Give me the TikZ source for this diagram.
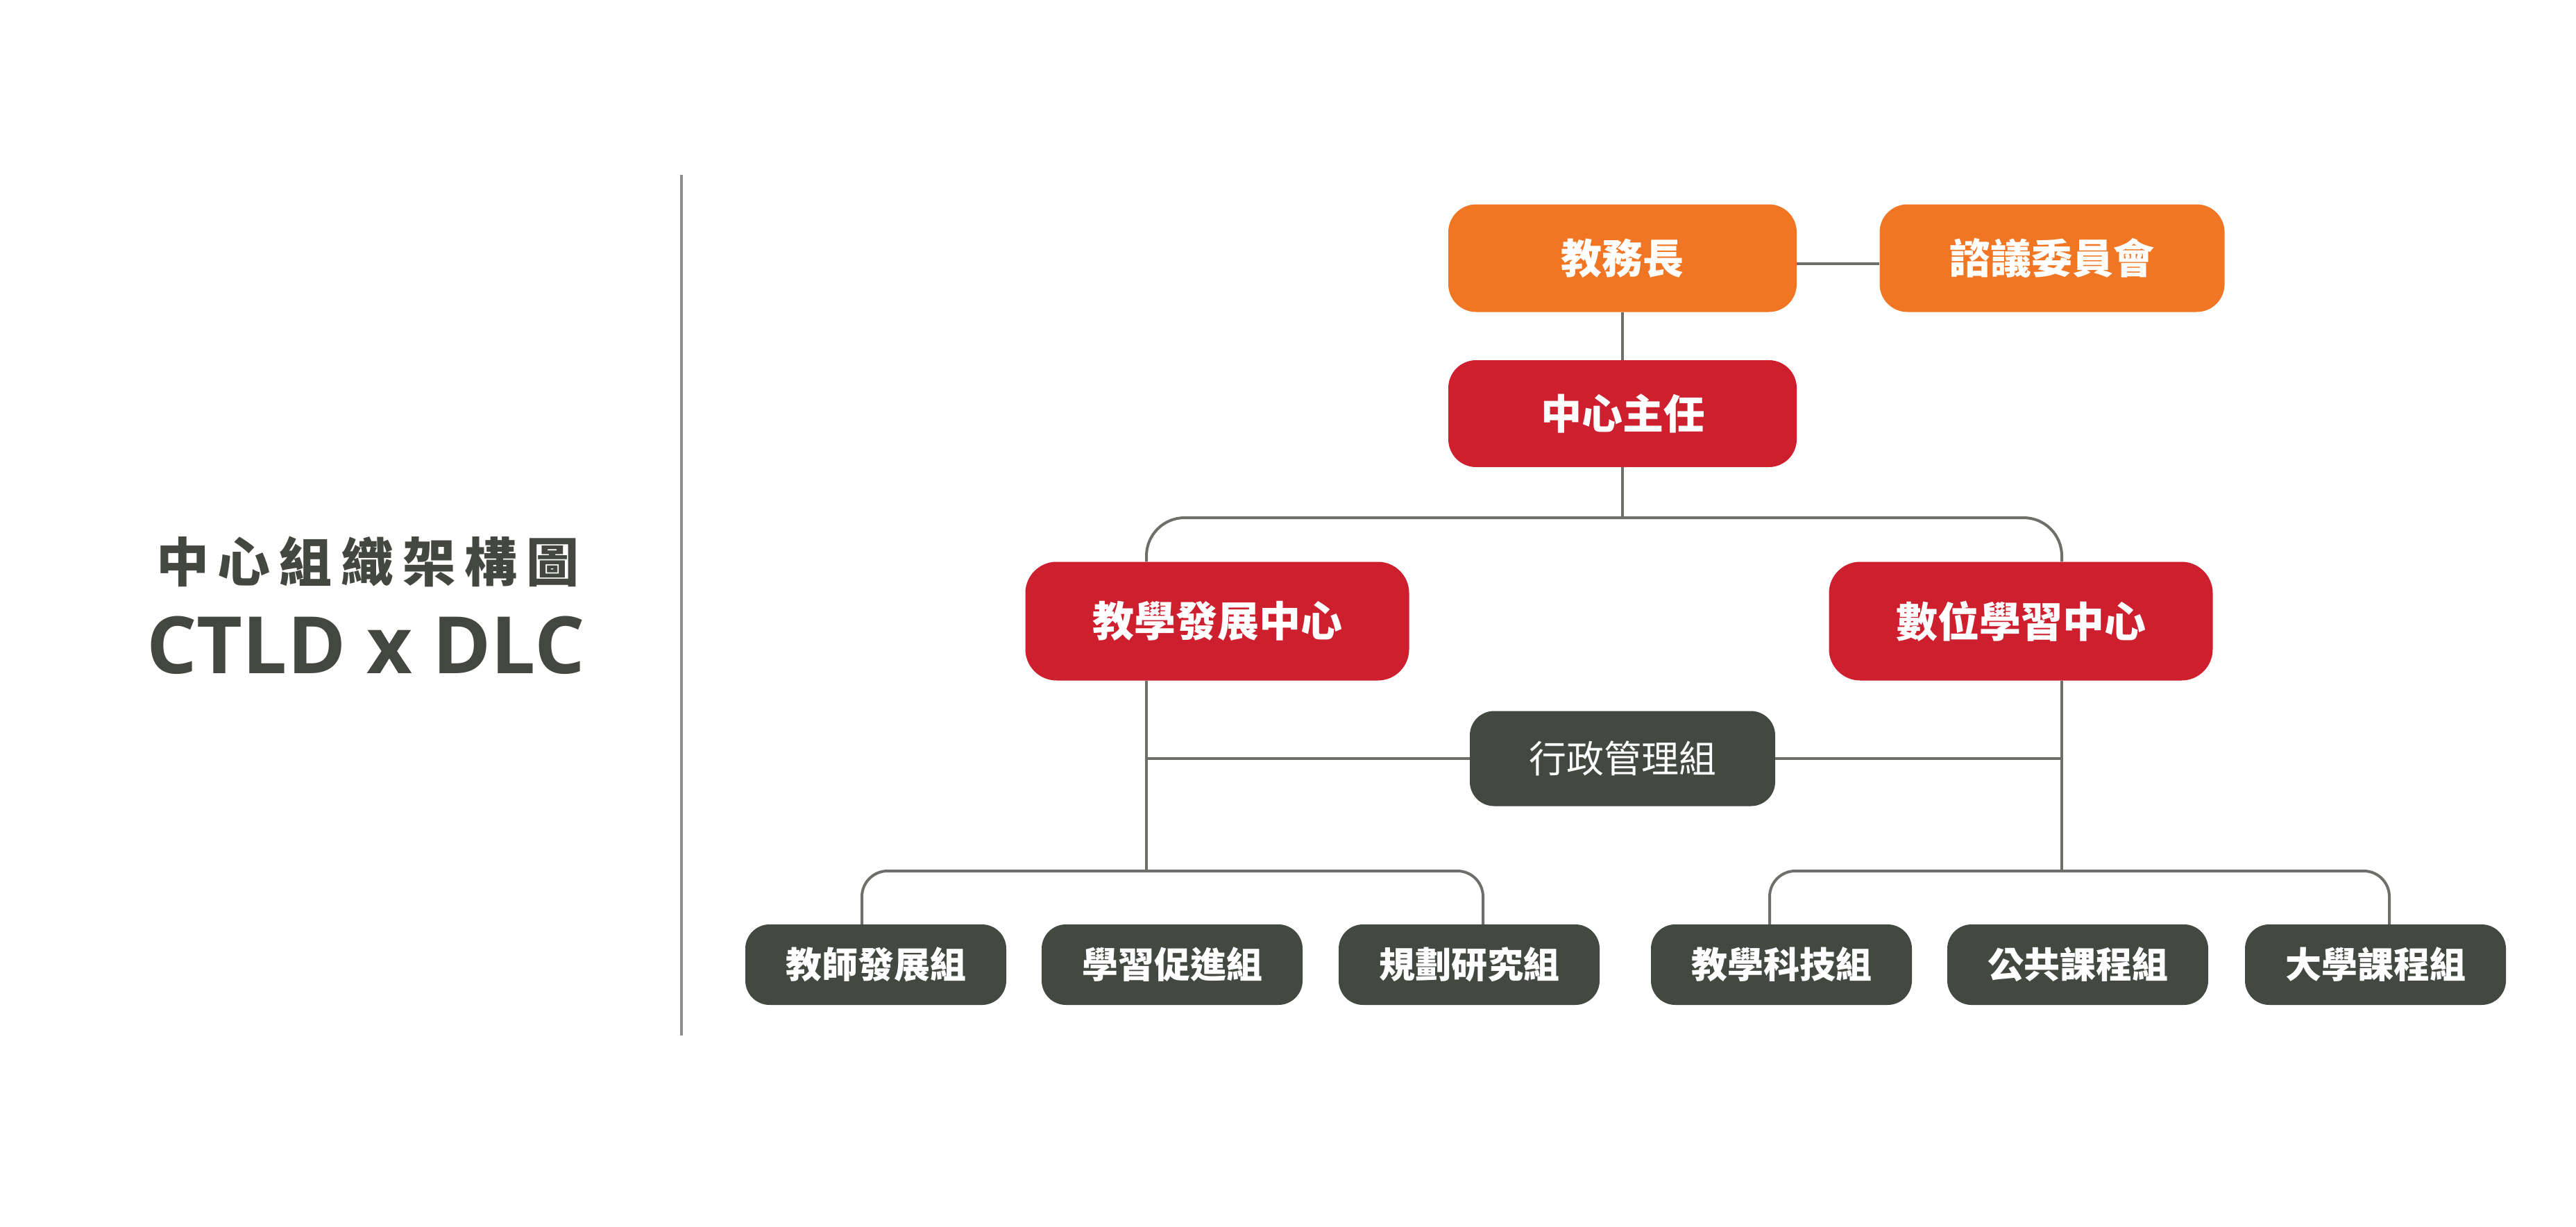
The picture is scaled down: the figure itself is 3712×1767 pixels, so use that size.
\documentclass[tikz,border=0pt]{standalone}
\usepackage{fontspec}
\newfontfamily\cjk{Noto Sans CJK TC}
\newfontfamily\latf{Open Sans}
\definecolor{orgc}{HTML}{F07623}
\definecolor{redc}{HTML}{CD1F2D}
\definecolor{darkc}{HTML}{434840}
\definecolor{linec}{HTML}{6E6F6B}
\definecolor{divc}{HTML}{8E8E8E}
\definecolor{titlec}{HTML}{43473F}
\begin{document}
\begin{tikzpicture}[x=1pt,y=-1pt,
  basebox/.style={inner sep=0pt, text=white, align=center},
  lvlone/.style={basebox, fill=orgc, minimum width=502pt, minimum height=155pt, rounded corners=40pt,
    font={\cjk\bfseries\fontsize{59}{59}\selectfont}},
  lvltwo/.style={basebox, fill=redc, minimum width=553pt, minimum height=171pt, rounded corners=45pt,
    font={\cjk\bfseries\fontsize{60}{60}\selectfont}},
  dirbox/.style={basebox, fill=redc, minimum width=502pt, minimum height=154pt, rounded corners=40pt,
    font={\cjk\bfseries\fontsize{59}{59}\selectfont}},
  admbox/.style={basebox, fill=darkc, minimum width=440pt, minimum height=137pt, rounded corners=35pt,
    font={\cjk\fontsize{54}{54}\selectfont}},
  grpbox/.style={basebox, fill=darkc, minimum width=376pt, minimum height=116pt, rounded corners=35pt,
    font={\cjk\bfseries\fontsize{52}{52}\selectfont}},
  conn/.style={draw=linec, line width=4pt}]
\useasboundingbox (0,0) rectangle (3712,1767);
\fill[white] (0,0) rectangle (3712,1767);

% divider
\draw[draw=divc, line width=4.5pt] (982,252) -- (982,1492);

% title
\node[inner sep=0pt, text=titlec, font={\cjk\bfseries\fontsize{76}{76}\selectfont}] (ttl) at (530,809)
  {中\hspace{13pt}心\hspace{13pt}組\hspace{13pt}織\hspace{13pt}架\hspace{13pt}構\hspace{13pt}圖};
\node[inner sep=0pt, anchor=base, text=titlec, font={\latf\bfseries\fontsize{114}{114}\selectfont}] (sub) at (527,970)
  {CTLD x DLC};

% nodes
\node[lvlone] (jwz) at (2338,372) {教務長};
\node[lvlone, minimum width=497pt] (zy) at (2957,372) {諮議委員會};
\node[dirbox] (zr) at (2338,596) {中心主任};
\node[lvltwo] (ctd) at (1754,895) {教學發展中心};
\node[lvltwo] (dlc) at (2912,895) {數位學習中心};
\node[admbox] (adm) at (2338,1093) {行政管理組};
\node[grpbox] (g1) at (1262,1390) {教師發展組};
\node[grpbox] (g2) at (1689,1390) {學習促進組};
\node[grpbox] (g3) at (2117,1390) {規劃研究組};
\node[grpbox] (g4) at (2567,1390) {教學科技組};
\node[grpbox] (g5) at (2994,1390) {公共課程組};
\node[grpbox] (g6) at (3423,1390) {大學課程組};

% helper coordinates
\coordinate (top) at (2338,746);
\coordinate (xL) at (1652,0);
\coordinate (xR) at (2971,0);
\coordinate (bL) at (1652,1255);
\coordinate (bR) at (2971,1255);
\coordinate (l1) at (1242,0);
\coordinate (l3) at (2137,0);
\coordinate (r4) at (2550,0);
\coordinate (r6) at (3443,0);

% connectors
\draw[conn] (jwz.south) -- (zr.north);
\draw[conn] ([yshift=-8pt]jwz.east) -- ([yshift=-8pt]zy.west);
\draw[conn] (zr.south) -- (top);
\draw[conn, rounded corners=55pt] (ctd.north -| xL) -- (top -| xL) -- (top -| xR) -- (dlc.north -| xR);
\draw[conn] (ctd.south -| xL) -- (bL);
\draw[conn] (dlc.south -| xR) -- (bR);
\draw[conn] (adm.west -| xL) -- (adm.west);
\draw[conn] (adm.east) -- (adm.east -| xR);
\draw[conn, rounded corners=37pt] (g1.north -| l1) -- (bL -| l1) -- (bL -| l3) -- (g3.north -| l3);
\draw[conn, rounded corners=37pt] (g4.north -| r4) -- (bR -| r4) -- (bR -| r6) -- (g6.north -| r6);
\end{tikzpicture}
\end{document}
